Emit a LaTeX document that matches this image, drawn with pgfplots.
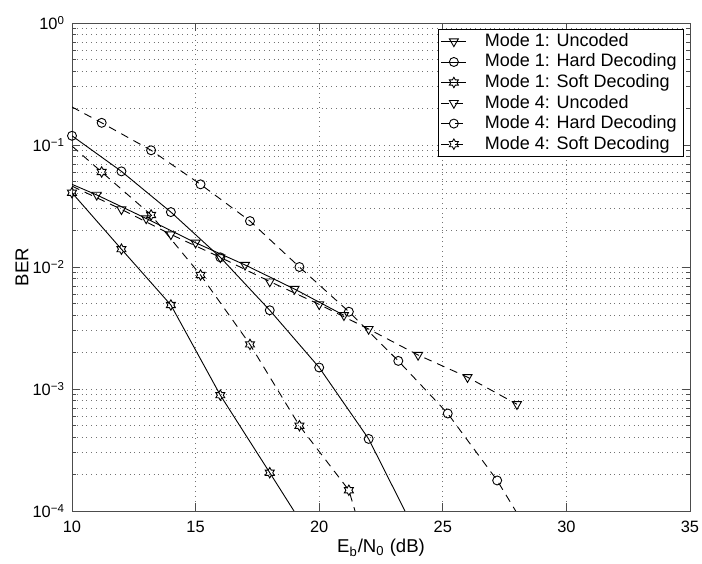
\documentclass[border=0pt]{standalone}
\usepackage{fontspec}
\setmainfont{Liberation Sans}
\usepackage{pgfplots}
\pgfplotsset{compat=1.18}

% six-pointed open star (MATLAB hexagram)
\pgfdeclareplotmark{hexagram}{%
  \pgfpathmoveto{\pgfpointpolar{90}{\pgfplotmarksize}}%
  \pgfpathlineto{\pgfpointpolar{120}{0.577\pgfplotmarksize}}%
  \pgfpathlineto{\pgfpointpolar{150}{\pgfplotmarksize}}%
  \pgfpathlineto{\pgfpointpolar{180}{0.577\pgfplotmarksize}}%
  \pgfpathlineto{\pgfpointpolar{210}{\pgfplotmarksize}}%
  \pgfpathlineto{\pgfpointpolar{240}{0.577\pgfplotmarksize}}%
  \pgfpathlineto{\pgfpointpolar{270}{\pgfplotmarksize}}%
  \pgfpathlineto{\pgfpointpolar{300}{0.577\pgfplotmarksize}}%
  \pgfpathlineto{\pgfpointpolar{330}{\pgfplotmarksize}}%
  \pgfpathlineto{\pgfpointpolar{0}{0.577\pgfplotmarksize}}%
  \pgfpathlineto{\pgfpointpolar{30}{\pgfplotmarksize}}%
  \pgfpathlineto{\pgfpointpolar{60}{0.577\pgfplotmarksize}}%
  \pgfpathclose
  \pgfusepathqstroke
}

\pgfplotsset{
  tri/.style={mark=triangle, mark size=2.6pt, mark options={solid, rotate=180}},
  circ/.style={mark=o, mark size=2.25pt, mark options={solid}},
  hex/.style={mark=hexagram, mark size=2.6pt, mark options={solid}},
  m1/.style={black, solid, line width=0.45pt},
  m4/.style={black, dash pattern=on 4pt off 3pt, line width=0.45pt},
}

\begin{document}
\begin{tikzpicture}
\begin{axis}[
    name=ber,
    at={(0,0)}, anchor=south west,
    scale only axis,
    width=309pt, height=244pt,
    ymode=log,
    xmin=10, xmax=35, ymin=1e-4, ymax=1,
    xtick={10,15,20,25,30,35},
    ytick={1e-4,1e-3,1e-2,1e-1,1},
    yticklabels={10\textsuperscript{−4},10\textsuperscript{−3},10\textsuperscript{−2},10\textsuperscript{−1},10\textsuperscript{0}},
    /pgf/number format/assume math mode=true,
    tick label style={font=\fontsize{8.2}{9}\selectfont},
    xticklabel style={yshift=-1.5pt},
    tick align=inside,
    major tick length=4pt,
    minor tick length=2pt,
    tick style={black!70, line width=0.4pt},
    axis line style={black!70, line width=0.5pt},
    grid=both,
    major grid style={dotted, black!55, line width=0.4pt},
    minor grid style={dotted, black!55, line width=0.4pt},
    xlabel={E\textsubscript{b}/N\textsubscript{0} (dB)},
    ylabel={BER},
    label style={font=\fontsize{9.3}{10}\selectfont},
    xlabel style={at={(axis description cs:0.5,-0.086)}, anchor=base},
    ylabel style={at={(axis description cs:-0.081,0.5)}, anchor=center},
    legend cell align=left,
    legend style={at={(1,1)}, anchor=north east, xshift=-3pt, yshift=-3pt,
        font=\fontsize{9}{10}\selectfont, draw=black, line width=0.4pt,
        fill=white, inner xsep=1.5pt, inner ysep=0pt, row sep=-1.75pt},
    legend image code/.code={%
        \draw[#1, mark indices={2}] plot coordinates {(0pt,0pt) (6.25pt,0pt) (12.5pt,0pt)};
        \path (19.5pt,0pt);},
]
% Mode 1: Uncoded
\addplot[m1, tri, mark indices={2,3,4,5,6,7}] coordinates {
    (10,0.0476) (11,0.039) (13,0.025) (15,0.0158) (17,0.0104) (19,0.0066) (21,0.00402)
};
\addlegendentry{Mode 1: Uncoded}
% Mode 1: Hard Decoding
\addplot[m1, circ, mark indices={1,2,3,4,5,6,7}] coordinates {
    (10,0.119) (12,0.0608) (14,0.0282) (16,0.012) (18,0.00442) (20,0.0015) (22,3.9e-4) (23.47,1e-4)
};
\addlegendentry{Mode 1: Hard Decoding}
% Mode 1: Soft Decoding
\addplot[m1, hex, mark indices={1,2,3,4,5}] coordinates {
    (10,0.0406) (12,0.014) (14,0.00488) (16,8.9e-4) (18,2.06e-4) (18.98,1e-4)
};
\addlegendentry{Mode 1: Soft Decoding}
% Mode 4: Uncoded
\addplot[m4, tri, mark indices={2,3,4,5,6,7,8,9,10}] coordinates {
    (10,0.046) (12,0.0297) (14,0.0185) (16,0.012) (18,0.0076) (20,0.00494) (22,0.0031) (24,0.0019) (26,0.00125) (28,7.5e-4)
};
\addlegendentry{Mode 4: Uncoded}
% Mode 4: Hard Decoding
\addplot[m4, circ, mark indices={2,3,4,5,6,7,8,9,10}] coordinates {
    (10,0.205) (11.2,0.152) (13.2,0.0905) (15.2,0.0476) (17.2,0.0238) (19.2,0.01) (21.2,0.0043) (23.2,0.0017) (25.2,6.3e-4) (27.2,1.78e-4) (27.95,1e-4)
};
\addlegendentry{Mode 4: Hard Decoding}
% Mode 4: Soft Decoding
\addplot[m4, hex, mark indices={2,3,4,5,6,7}] coordinates {
    (10,0.098) (11.2,0.0601) (13.2,0.0267) (15.2,0.0086) (17.2,0.00232) (19.2,5.0e-4) (21.2,1.48e-4) (21.45,1e-4)
};
\addlegendentry{Mode 4: Soft Decoding}
\end{axis}
\pgfresetboundingbox
\path[use as bounding box] (-36pt,-26pt) rectangle (315pt,255.5pt);
\end{tikzpicture}
\end{document}
